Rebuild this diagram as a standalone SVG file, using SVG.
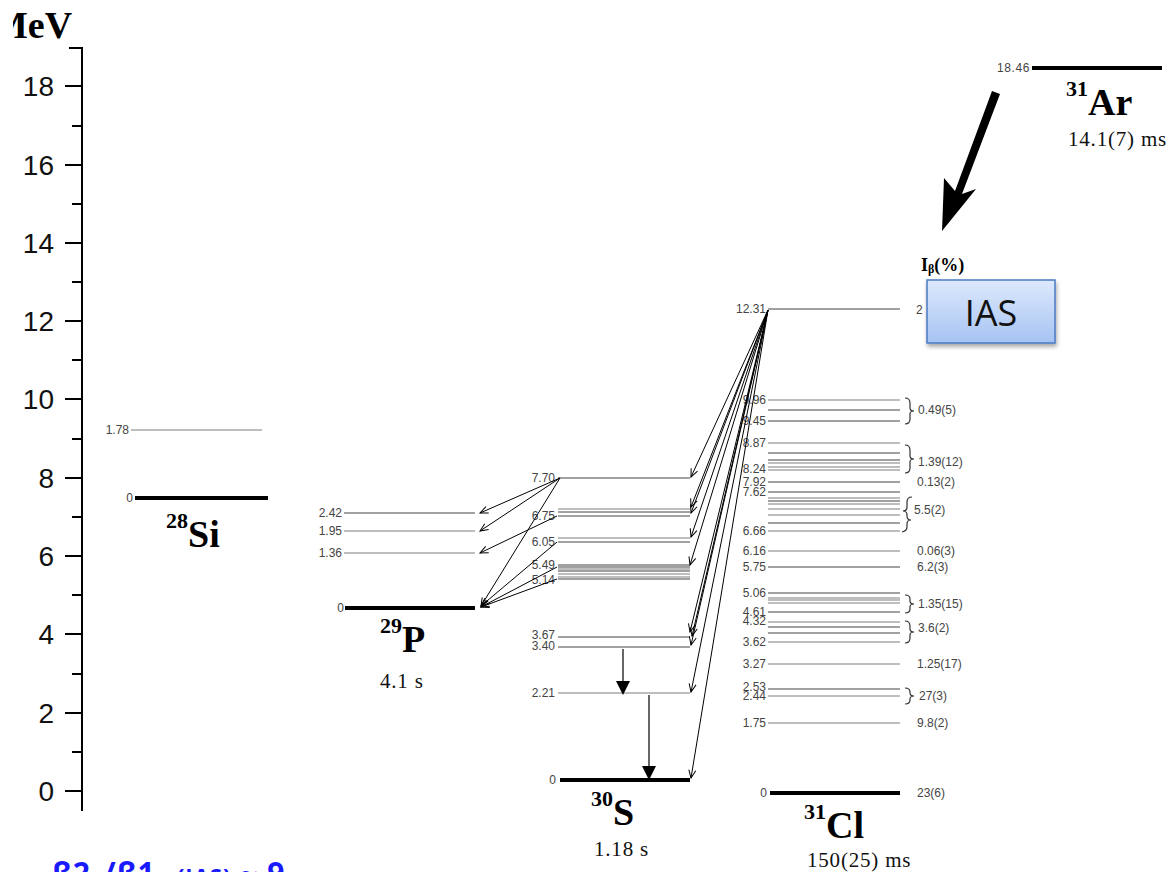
<svg xmlns="http://www.w3.org/2000/svg" width="1171" height="872" viewBox="0 0 1171 872">
<style>
.tick{stroke:#000;stroke-width:2}
.ax{font-family:"Liberation Sans",Arial,sans-serif;font-size:28px;fill:#111;text-anchor:end}
.lv{stroke:#444;stroke-width:1.2}
.lg{stroke:#a8a8a8;stroke-width:1.6}
.gs{stroke:#000;stroke-width:4}
.ll{font-family:"Liberation Sans",Arial,sans-serif;font-size:12px;fill:#444;text-anchor:end}
.il{font-family:"Liberation Sans",Arial,sans-serif;font-size:12px;fill:#444}
.nuc{font-family:"Liberation Serif","Times New Roman",serif;font-weight:bold;font-size:38px;fill:#000}
.sup{font-size:22px}
.hl{font-family:"Liberation Serif","Times New Roman",serif;font-size:21px;fill:#111;letter-spacing:0.8px}
.br{fill:none;stroke:#333;stroke-width:1.2}
.fan{stroke:#000;stroke-width:1;fill:none;marker-end:url(#v)}
</style>
<defs>
<marker id="v" markerWidth="10" markerHeight="10" refX="9" refY="5" orient="auto" markerUnits="userSpaceOnUse">
<path d="M1,1.5 L9,5 L1,8.5" fill="none" stroke="#000" stroke-width="1"/>
</marker>
<linearGradient id="ias" x1="0" y1="0" x2="0" y2="1">
<stop offset="0" stop-color="#dde9fc"/>
<stop offset="1" stop-color="#a6c3f3"/>
</linearGradient>
<filter id="sh" x="-10%" y="-10%" width="130%" height="140%">
<feDropShadow dx="1" dy="3" stdDeviation="2" flood-color="#000" flood-opacity="0.35"/>
</filter>
<clipPath id="mevclip"><rect x="13" y="0" width="100" height="50"/></clipPath>
</defs>
<rect width="1171" height="872" fill="#fff"/>

<g id="axis">
<line x1="82" y1="47" x2="82" y2="811" class="tick"/>
<g class="tick">
<line x1="69" y1="48" x2="82" y2="48"/>
<line x1="65" y1="86" x2="82" y2="86"/>
<line x1="72" y1="126" x2="82" y2="126"/>
<line x1="65" y1="165" x2="82" y2="165"/>
<line x1="72" y1="204" x2="82" y2="204"/>
<line x1="65" y1="243" x2="82" y2="243"/>
<line x1="72" y1="282" x2="82" y2="282"/>
<line x1="65" y1="321" x2="82" y2="321"/>
<line x1="72" y1="360" x2="82" y2="360"/>
<line x1="65" y1="399" x2="82" y2="399"/>
<line x1="72" y1="439" x2="82" y2="439"/>
<line x1="65" y1="478" x2="82" y2="478"/>
<line x1="72" y1="517" x2="82" y2="517"/>
<line x1="65" y1="556" x2="82" y2="556"/>
<line x1="72" y1="595" x2="82" y2="595"/>
<line x1="65" y1="634" x2="82" y2="634"/>
<line x1="72" y1="674" x2="82" y2="674"/>
<line x1="65" y1="713" x2="82" y2="713"/>
<line x1="72" y1="752" x2="82" y2="752"/>
<line x1="65" y1="791" x2="82" y2="791"/>
</g>
<text class="ax" x="54" y="96">18</text>
<text class="ax" x="54" y="175">16</text>
<text class="ax" x="54" y="253">14</text>
<text class="ax" x="54" y="331">12</text>
<text class="ax" x="54" y="409">10</text>
<text class="ax" x="54" y="488">8</text>
<text class="ax" x="54" y="566">6</text>
<text class="ax" x="54" y="644">4</text>
<text class="ax" x="54" y="723">2</text>
<text class="ax" x="54" y="801">0</text>
<text x="-8" y="38" clip-path="url(#mevclip)" font-family="'Liberation Serif','Times New Roman',serif" font-weight="bold" font-size="38">MeV</text>
</g>

<g id="Si28">
<line x1="131" y1="430" x2="262" y2="430" class="lg"/>
<text class="ll" x="129" y="434">1.78</text>
<line x1="135" y1="498" x2="268" y2="498" class="gs"/>
<text class="ll" x="133" y="502">0</text>
<text class="nuc" x="166" y="547"><tspan class="sup" dy="-19">28</tspan><tspan dy="19">Si</tspan></text>
</g>

<g id="P29">
<line x1="344" y1="513" x2="475" y2="513" class="lv"/>
<line x1="344" y1="531" x2="475" y2="531" class="lg"/>
<line x1="344" y1="553" x2="475" y2="553" class="lg"/>
<line x1="345" y1="608" x2="475" y2="608" class="gs"/>
<text class="ll" x="342" y="517">2.42</text>
<text class="ll" x="342" y="535">1.95</text>
<text class="ll" x="342" y="557">1.36</text>
<text class="ll" x="344" y="612">0</text>
<text class="nuc" x="380" y="652"><tspan class="sup" dy="-19">29</tspan><tspan dy="19">P</tspan></text>
<text class="hl" x="380" y="688">4.1 s</text>
</g>

<g id="S30">
<line x1="558" y1="478" x2="690" y2="478" class="lv"/>
<line x1="558" y1="509" x2="690" y2="509" class="lg"/>
<line x1="558" y1="512" x2="690" y2="512" class="lv"/>
<line x1="558" y1="516" x2="690" y2="516" class="lv"/>
<line x1="558" y1="538" x2="690" y2="538" class="lg"/>
<line x1="558" y1="542" x2="690" y2="542" class="lv"/>
<line x1="558" y1="565" x2="690" y2="565" class="lv"/>
<line x1="558" y1="567" x2="690" y2="567" class="lv"/>
<line x1="558" y1="569" x2="690" y2="569" class="lg"/>
<line x1="558" y1="571" x2="690" y2="571" class="lv"/>
<line x1="558" y1="574" x2="690" y2="574" class="lg"/>
<line x1="558" y1="577" x2="690" y2="577" class="lg"/>
<line x1="558" y1="579" x2="690" y2="579" class="lv"/>
<line x1="558" y1="637" x2="690" y2="637" class="lv"/>
<line x1="558" y1="647" x2="690" y2="647" class="lv"/>
<line x1="558" y1="693" x2="690" y2="693" class="lg"/>
<line x1="560" y1="780" x2="690" y2="780" class="gs"/>
<text class="ll" x="555" y="482">7.70</text>
<text class="ll" x="555" y="520">6.75</text>
<text class="ll" x="555" y="546">6.05</text>
<text class="ll" x="555" y="569">5.49</text>
<text class="ll" x="555" y="584">5.14</text>
<text class="ll" x="555" y="639">3.67</text>
<text class="ll" x="555" y="650">3.40</text>
<text class="ll" x="555" y="697">2.21</text>
<text class="ll" x="556" y="784">0</text>
<line x1="623" y1="649" x2="623" y2="682" stroke="#000" stroke-width="1.2"/>
<polygon points="616,681 630,681 623,695" fill="#000"/>
<line x1="649" y1="695" x2="649" y2="767" stroke="#000" stroke-width="1.2"/>
<polygon points="642,766 656,766 649,780" fill="#000"/>
<text class="nuc" x="591" y="825"><tspan class="sup" dy="-19">30</tspan><tspan dy="19">S</tspan></text>
<text class="hl" x="594" y="856">1.18 s</text>
</g>

<g id="Cl31">
<line x1="768" y1="309" x2="900" y2="309" class="lv"/>
<text class="ll" x="766" y="313">12.31</text>
<text class="il" x="916" y="314">2</text>
<line x1="768" y1="400" x2="900" y2="400" class="lg"/>
<line x1="768" y1="410" x2="900" y2="410" class="lv"/>
<line x1="768" y1="421" x2="900" y2="421" class="lv"/>
<text class="ll" x="766" y="404">9.96</text>
<text class="ll" x="766" y="425">9.45</text>
<line x1="768" y1="443" x2="900" y2="443" class="lg"/>
<line x1="768" y1="453" x2="900" y2="453" class="lv"/>
<line x1="768" y1="460" x2="900" y2="460" class="lv"/>
<line x1="768" y1="463" x2="900" y2="463" class="lg"/>
<line x1="768" y1="467" x2="900" y2="467" class="lg"/>
<line x1="768" y1="470" x2="900" y2="470" class="lg"/>
<text class="ll" x="766" y="447">8.87</text>
<text class="ll" x="766" y="473">8.24</text>
<line x1="768" y1="482" x2="900" y2="482" class="lv"/>
<text class="ll" x="766" y="486">7.92</text>
<line x1="768" y1="492" x2="900" y2="492" class="lv"/>
<line x1="768" y1="498" x2="900" y2="498" class="lg"/>
<line x1="768" y1="501" x2="900" y2="501" class="lv"/>
<line x1="768" y1="504" x2="900" y2="504" class="lg"/>
<line x1="768" y1="509" x2="900" y2="509" class="lg"/>
<line x1="768" y1="515" x2="900" y2="515" class="lg"/>
<line x1="768" y1="523" x2="900" y2="523" class="lv"/>
<line x1="768" y1="531" x2="900" y2="531" class="lg"/>
<text class="ll" x="766" y="496">7.62</text>
<text class="ll" x="766" y="535">6.66</text>
<line x1="768" y1="551" x2="900" y2="551" class="lg"/>
<text class="ll" x="766" y="555">6.16</text>
<line x1="768" y1="567" x2="900" y2="567" class="lv"/>
<text class="ll" x="766" y="571">5.75</text>
<line x1="768" y1="593" x2="900" y2="593" class="lv"/>
<line x1="768" y1="598" x2="900" y2="598" class="lg"/>
<line x1="768" y1="600" x2="900" y2="600" class="lg"/>
<line x1="768" y1="603" x2="900" y2="603" class="lg"/>
<line x1="768" y1="612" x2="900" y2="612" class="lv"/>
<text class="ll" x="766" y="597">5.06</text>
<text class="ll" x="766" y="616">4.61</text>
<line x1="768" y1="622" x2="900" y2="622" class="lg"/>
<line x1="768" y1="627" x2="900" y2="627" class="lv"/>
<line x1="768" y1="633" x2="900" y2="633" class="lv"/>
<line x1="768" y1="642" x2="900" y2="642" class="lg"/>
<text class="ll" x="766" y="625">4.32</text>
<text class="ll" x="766" y="646">3.62</text>
<line x1="768" y1="664" x2="900" y2="664" class="lg"/>
<text class="ll" x="766" y="668">3.27</text>
<line x1="768" y1="689" x2="900" y2="689" class="lv"/>
<line x1="768" y1="696" x2="900" y2="696" class="lg"/>
<text class="ll" x="766" y="691">2.53</text>
<text class="ll" x="766" y="700">2.44</text>
<line x1="768" y1="723" x2="900" y2="723" class="lg"/>
<text class="ll" x="766" y="727">1.75</text>
<line x1="770" y1="793" x2="900" y2="793" class="gs"/>
<text class="ll" x="767" y="797">0</text>
<path class="br" d="M905,398 q5,0 5,5 v5 q0,3 4,3 q-4,0 -4,3 v5 q0,5 -5,5"/>
<path class="br" d="M905,445 q5,0 5,5 v6 q0,3 4,3 q-4,0 -4,3 v6 q0,5 -5,5"/>
<path class="br" d="M912,497 q-5,0 -5,5 v5 q0,4 -4,4 q4,0 4,4 v1 q0,4 4,4 q-4,0 -4,4 v3 q0,4 -5,5"/>
<path class="br" d="M905,595 q5,0 5,4 v2 q0,3 4,3 q-4,0 -4,3 v2 q0,4 -5,4"/>
<path class="br" d="M905,621 q5,0 5,5 v3 q0,3 4,3 q-4,0 -4,3 v3 q0,5 -5,5"/>
<path class="br" d="M905,688 q5,0 5,4 v1 q0,3 4,3 q-4,0 -4,3 v1 q0,4 -5,4"/>
<text class="il" x="918" y="414">0.49(5)</text>
<text class="il" x="918" y="466">1.39(12)</text>
<text class="il" x="917" y="486">0.13(2)</text>
<text class="il" x="914" y="514">5.5(2)</text>
<text class="il" x="917" y="555">0.06(3)</text>
<text class="il" x="917" y="571">6.2(3)</text>
<text class="il" x="918" y="608">1.35(15)</text>
<text class="il" x="918" y="632">3.6(2)</text>
<text class="il" x="917" y="668">1.25(17)</text>
<text class="il" x="919" y="700">27(3)</text>
<text class="il" x="917" y="727">9.8(2)</text>
<text class="il" x="917" y="797">23(6)</text>
<text class="nuc" x="804" y="838"><tspan class="sup" dy="-19">31</tspan><tspan dy="19">Cl</tspan></text>
<text class="hl" x="807" y="867">150(25) ms</text>
</g>

<g id="Ar31">
<line x1="1032" y1="68" x2="1162" y2="68" class="gs"/>
<text class="ll" x="1030" y="72" letter-spacing="0.6">18.46</text>
<text class="nuc" x="1066" y="115"><tspan class="sup" dy="-19">31</tspan><tspan dy="19">Ar</tspan></text>
<text class="hl" x="1068" y="146">14.1(7) ms</text>
</g>

<g id="beta-arrow">
<polygon points="992,91 1000,94 962,194 976,189 942,231 944,178 955,191" fill="#000"/>
<text x="921" y="271" font-family="'Liberation Serif','Times New Roman',serif" font-weight="bold" font-size="18">I<tspan font-size="12" dy="2">β</tspan><tspan dy="-2">(%)</tspan></text>
</g>

<g id="IAS">
<rect x="927" y="280" width="128" height="63" fill="url(#ias)" stroke="#4a7bc4" stroke-width="1.5" filter="url(#sh)"/>
<text x="991" y="326" text-anchor="middle" font-family="'Open Sans','Liberation Sans',sans-serif" font-size="36" fill="#111">IAS</text>
</g>

<g id="connectors">
<path class="fan" d="M768,310 L691,477"/>
<path class="fan" d="M768,310 L691,507"/>
<path class="fan" d="M768,310 L691,513"/>
<path class="fan" d="M768,310 L691,537"/>
<path class="fan" d="M768,310 L690,565"/>
<path class="fan" d="M768,310 L690,632"/>
<path class="fan" d="M768,310 L692,636"/>
<path class="fan" d="M768,310 L691,645"/>
<path class="fan" d="M768,310 L691,692"/>
<path class="fan" d="M768,310 L691,778"/>
<path class="fan" d="M560,478 L480,513"/>
<path class="fan" d="M560,478 L480,531"/>
<path class="fan" d="M560,478 L481,606"/>
<path class="fan" d="M557,516 L480,553"/>
<path class="fan" d="M557,542 L481,606"/>
<path class="fan" d="M557,567 L481,607"/>
<path class="fan" d="M557,579 L481,607"/>
</g>

<text x="52" y="884" font-family="'Open Sans','Liberation Sans',sans-serif" font-weight="bold" font-size="30" fill="#1a1aff" letter-spacing="1">β2<tspan font-size="18">p</tspan>/β1<tspan font-size="18">p</tspan> <tspan font-size="22">(IAS)</tspan>  ~ 9</text>
</svg>
